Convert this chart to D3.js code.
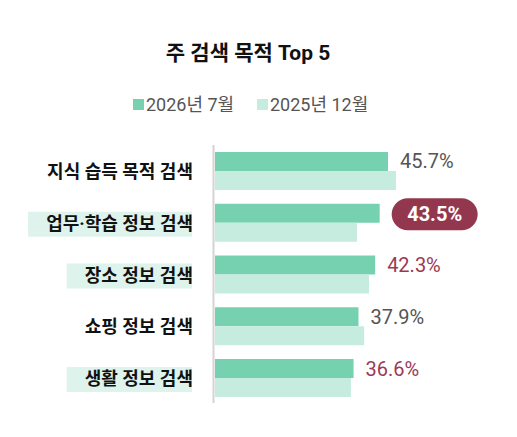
<!DOCTYPE html>
<html><head><meta charset="utf-8">
<script src="https://cdn.jsdelivr.net/npm/d3@7"></script>
<style>body{margin:0;background:#fff;} svg{display:block;font-family:Roboto,"Noto Sans CJK KR",sans-serif;}</style>
</head><body>
<svg id="c" width="517" height="437"></svg>
<script>
const categories = ["지식 습득 목적 검색","업무·학습 정보 검색","장소 정보 검색","쇼핑 정보 검색","생활 정보 검색"];
const seriesNames = ["2026년 7월","2025년 12월"];
const values2026 = [45.7,43.5,42.3,37.9,36.6];
const values2025 = [47.8,37.5,40.7,39.4,35.9];
const labelStyle = ["plain","pill","accent","plain","accent"];
const highlighted = [false,true,true,false,true];
const colors = ["#76d1b0","#c6ece0"];

const svg = d3.select("#c");
const x = d3.scaleLinear().domain([0,45.7]).range([215,388]);
const y = d3.scaleBand().domain(categories).range([152,397]).paddingInner(0.266).paddingOuter(0);
const yInner = d3.scaleBand().domain(seriesNames).range([0,y.bandwidth()]);

svg.append("text").attr("x",248).attr("y",60).attr("text-anchor","middle")
  .attr("font-size",21).attr("font-weight",700).attr("fill","#111").text("주 검색 목적 Top 5");

const legX = [133,257];
seriesNames.forEach((s,i)=>{
  svg.append("rect").attr("x",legX[i]).attr("y",99).attr("width",11).attr("height",11).attr("fill",colors[i]);
  svg.append("text").attr("x",legX[i]+13).attr("y",111).attr("font-size",18).attr("fill","#555").text(s);
});

categories.forEach((c,i)=>{
  const cy = y(c)+y.bandwidth()/2;
  const t = svg.append("text").attr("x",193).attr("y",cy+7).attr("text-anchor","end")
    .attr("font-size",18).attr("font-weight",700).attr("fill","#111").text(c);
  if(highlighted[i]){
    const bb = t.node().getBBox();
    svg.insert("rect","text").attr("x",bb.x-18).attr("y",cy-11).attr("width",192-(bb.x-18)).attr("height",25).attr("fill","#def3ec");
  }
});

const data = [values2026, values2025];
seriesNames.forEach((s,si)=>{
  svg.selectAll(null).data(categories).enter().append("rect")
    .attr("x",x(0)).attr("y",c=>y(c)+yInner(s)).attr("height",yInner.bandwidth())
    .attr("width",(c,i)=>x(data[si][i])-x(0)).attr("fill",colors[si]);
});

svg.append("line").attr("x1",213.5).attr("x2",213.5).attr("y1",145).attr("y2",403)
  .attr("stroke","#d4d4d4").attr("stroke-width",2);

categories.forEach((c,i)=>{
  const v = values2026[i];
  const cy = y(c)+yInner.bandwidth()/2;
  const lx = x(v)+12;
  const txt = v.toFixed(1)+"%";
  if(labelStyle[i]==="pill"){
    svg.append("rect").attr("x",lx).attr("y",cy-15).attr("width",86).attr("height",32).attr("rx",16).attr("fill","#93374f");
    svg.append("text").attr("x",lx+43).attr("y",cy+8).attr("text-anchor","middle")
      .attr("font-size",20).attr("font-weight",700).attr("fill","#fff").text(txt);
  } else {
    svg.append("text").attr("x",lx).attr("y",cy+7).attr("font-size",20)
      .attr("font-weight",400)
      .attr("fill",labelStyle[i]==="accent"?"#9b3a54":"#555").text(txt);
  }
});
</script>
</body></html>
